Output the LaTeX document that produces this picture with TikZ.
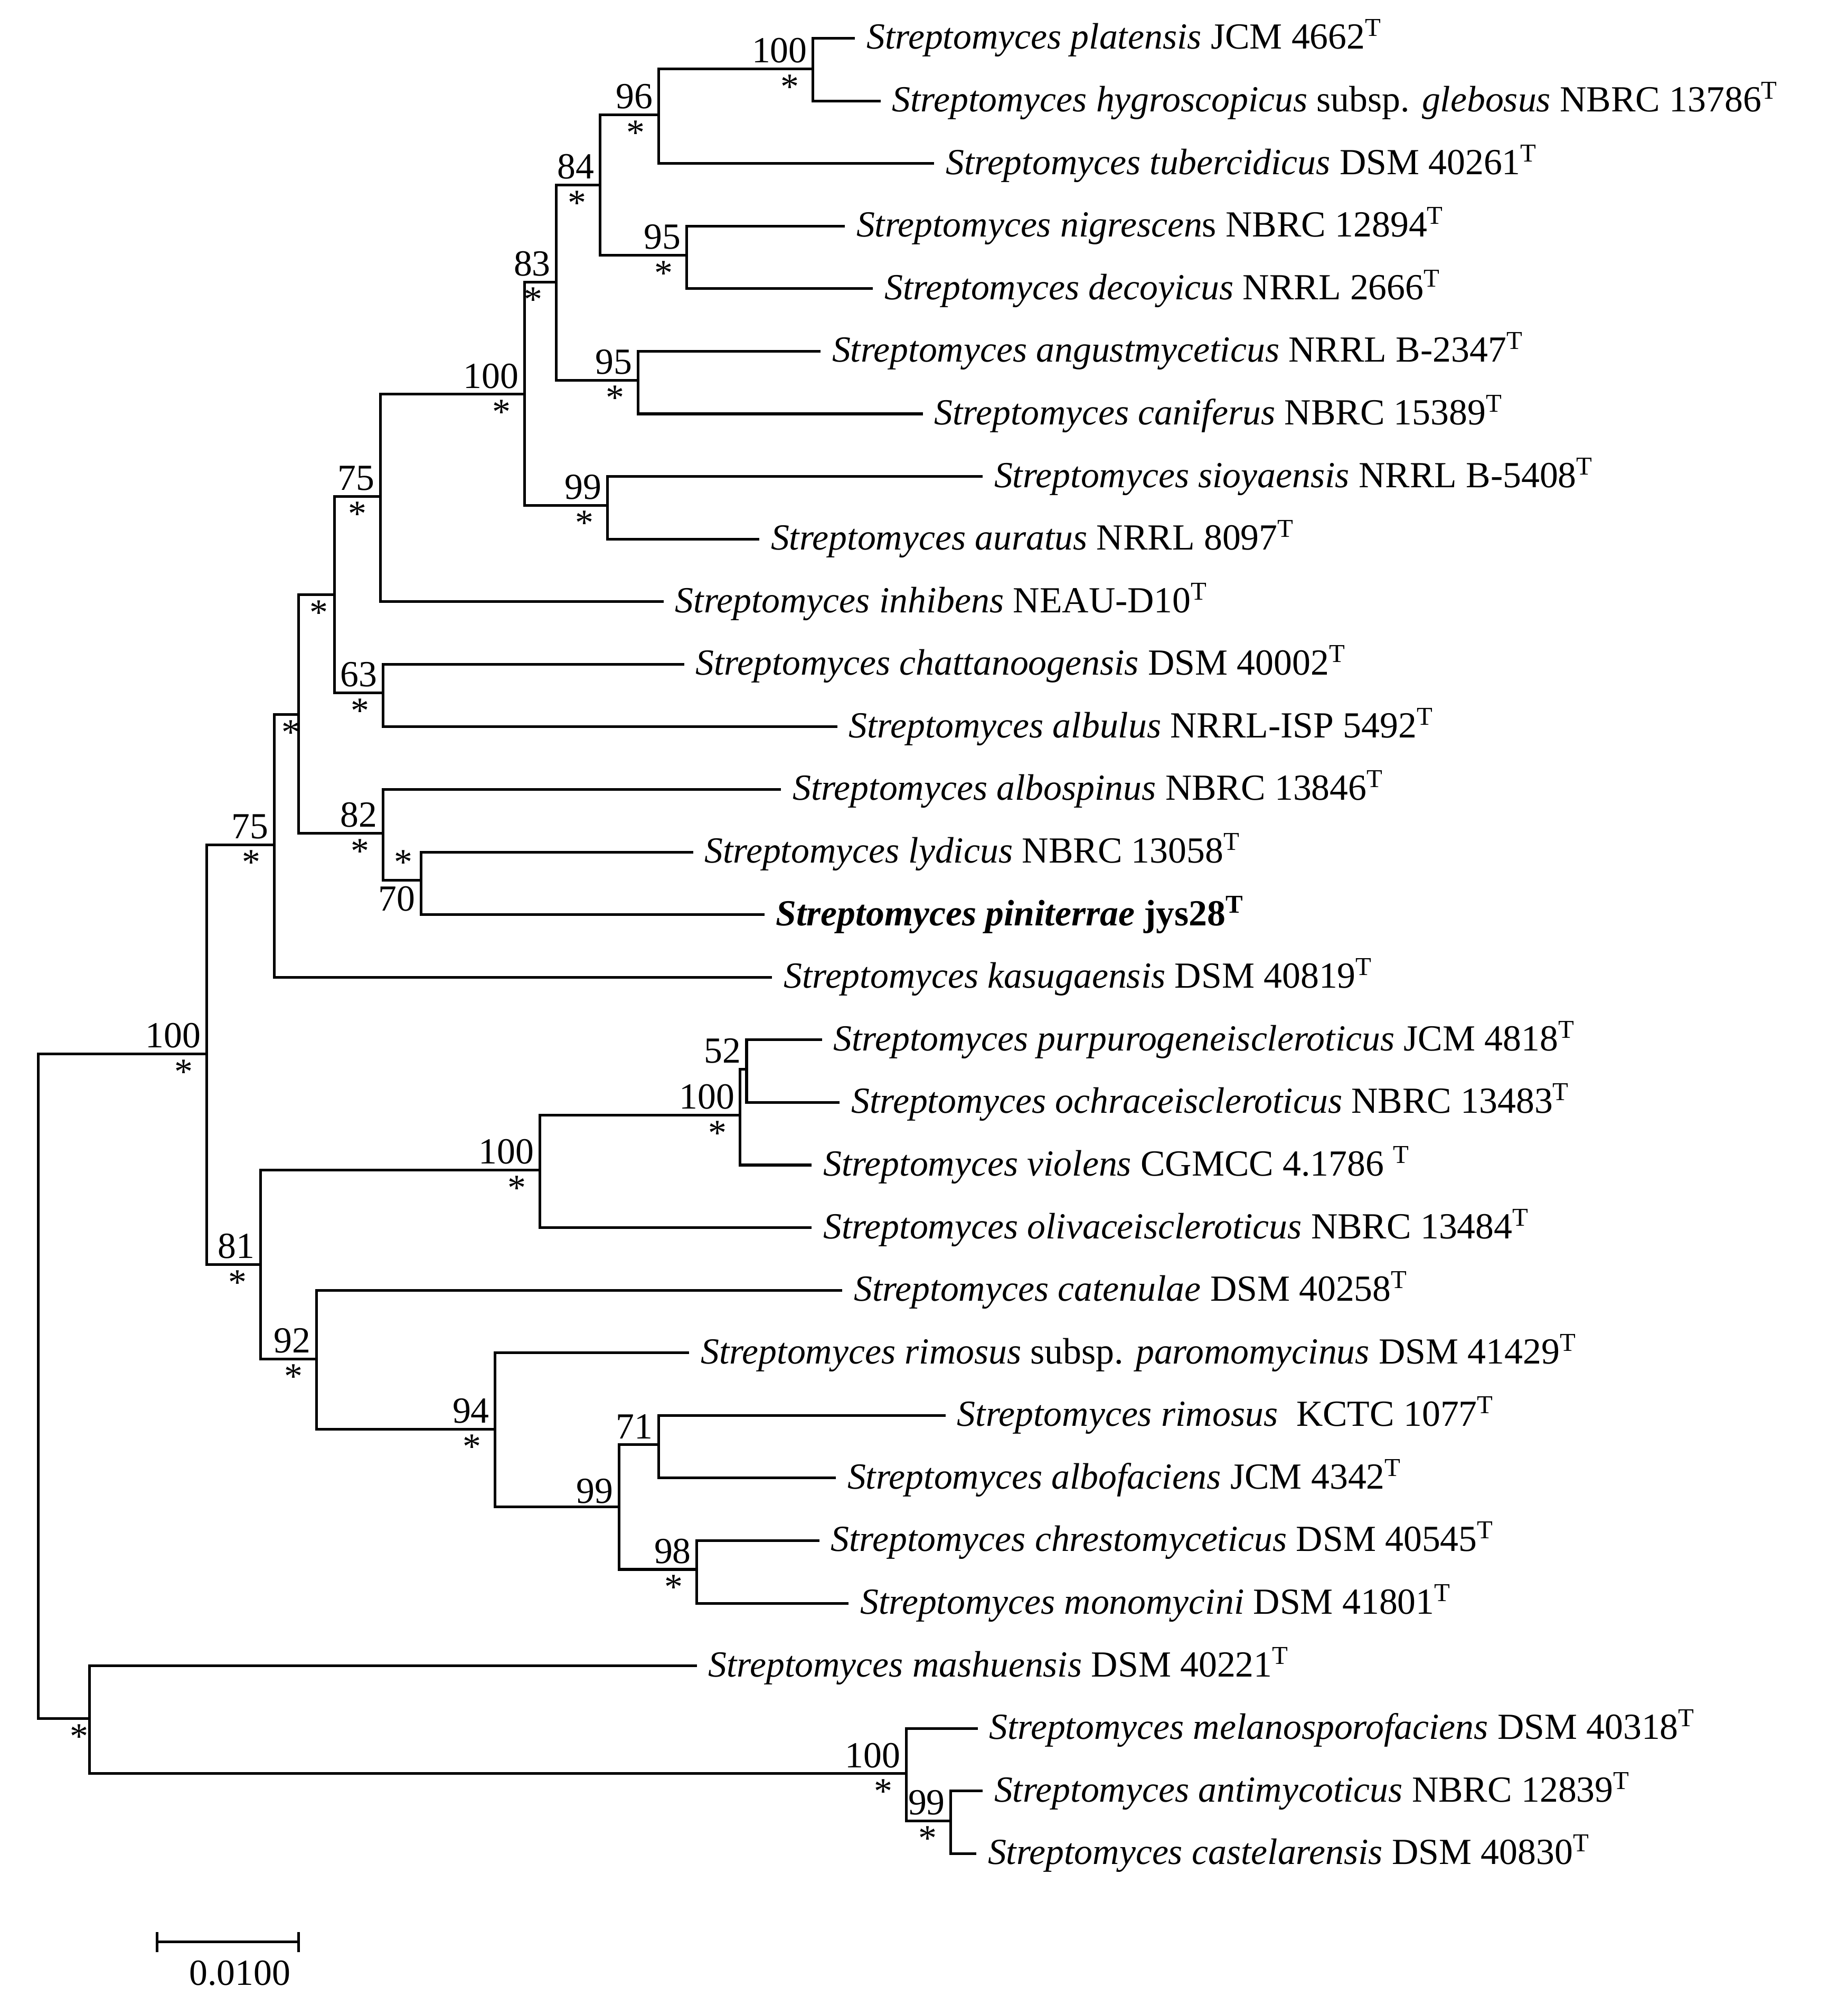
\documentclass[tikz,border=0pt]{standalone}
\usepackage{fontspec}
\setmainfont{Liberation Serif}
\begin{document}
\begin{tikzpicture}[x=0.01cm,y=-0.01cm,line width=0.6pt,
  leaf/.style={anchor=west,inner sep=0pt,font=\fontsize{8.2}{9}\selectfont},
  lab/.style={inner sep=1pt,font=\fontsize{8.2}{9}\selectfont}]
\useasboundingbox (0,0) rectangle (1440,1580);
% leaves
\foreach \i/\x/\t in {
1/678/{\textit{Streptomyces platensis} JCM 4662\textsuperscript{T}},
2/698/{\textit{Streptomyces hygroscopicus} subsp. \textit{glebosus} NBRC 13786\textsuperscript{T}},
3/740/{\textit{Streptomyces tubercidicus} DSM 40261\textsuperscript{T}},
4/670/{\textit{Streptomyces nigrescen}s NBRC 12894\textsuperscript{T}},
5/692/{\textit{Streptomyces decoyicus} NRRL 2666\textsuperscript{T}},
6/651/{\textit{Streptomyces angustmyceticus} NRRL B-2347\textsuperscript{T}},
7/731/{\textit{Streptomyces caniferus} NBRC 15389\textsuperscript{T}},
8/778/{\textit{Streptomyces sioyaensis} NRRL B-5408\textsuperscript{T}},
9/603/{\textit{Streptomyces auratus} NRRL 8097\textsuperscript{T}},
10/528/{\textit{Streptomyces inhibens} NEAU-D10\textsuperscript{T}},
11/544/{\textit{Streptomyces chattanoogensis} DSM 40002\textsuperscript{T}},
12/664/{\textit{Streptomyces albulus} NRRL-ISP 5492\textsuperscript{T}},
13/620/{\textit{Streptomyces albospinus} NBRC 13846\textsuperscript{T}},
14/551/{\textit{Streptomyces lydicus} NBRC 13058\textsuperscript{T}},
15/607/{\textbf{\textit{Streptomyces piniterrae} jys28\textsuperscript{T}}},
16/613/{\textit{Streptomyces kasugaensis} DSM 40819\textsuperscript{T}},
17/652/{\textit{Streptomyces purpurogeneiscleroticus} JCM 4818\textsuperscript{T}},
18/666/{\textit{Streptomyces ochraceiscleroticus} NBRC 13483\textsuperscript{T}},
19/644/{\textit{Streptomyces violens} CGMCC 4.1786 \textsuperscript{T}},
20/644/{\textit{Streptomyces olivaceiscleroticus} NBRC 13484\textsuperscript{T}},
21/668/{\textit{Streptomyces catenulae} DSM 40258\textsuperscript{T}},
22/548/{\textit{Streptomyces rimosus} subsp. \textit{paromomycinus} DSM 41429\textsuperscript{T}},
23/749/{\textit{Streptomyces rimosus}\ \ KCTC 1077\textsuperscript{T}},
24/663/{\textit{Streptomyces albofaciens} JCM 4342\textsuperscript{T}},
25/650/{\textit{Streptomyces chrestomyceticus} DSM 40545\textsuperscript{T}},
26/673/{\textit{Streptomyces monomycini} DSM 41801\textsuperscript{T}},
27/554/{\textit{Streptomyces mashuensis} DSM 40221\textsuperscript{T}},
28/774/{\textit{Streptomyces melanosporofaciens} DSM 40318\textsuperscript{T}},
29/778/{\textit{Streptomyces antimycoticus} NBRC 12839\textsuperscript{T}},
30/773/{\textit{Streptomyces castelarensis} DSM 40830\textsuperscript{T}}}
{\node[leaf] (l\i) at (\x,{30+49.06*(\i-1)}) {\t};
 \coordinate (e\i) at ({\x-8},{30+49.06*(\i-1)});}
% internal nodes
\coordinate (n1) at (637,54);
\coordinate (n2) at (516,90);
\coordinate (n3) at (538,200);
\coordinate (n4) at (470,145);
\coordinate (n5) at (500,298);
\coordinate (n6) at (436,221);
\coordinate (n7) at (476,396);
\coordinate (n8) at (411,309);
\coordinate (n9) at (298,389);
\coordinate (n10) at (300,543);
\coordinate (n11) at (262,466);
\coordinate (n12) at (330,690);
\coordinate (n13) at (300,653);
\coordinate (n14) at (234,560);
\coordinate (n15) at (215,662);
\coordinate (n16) at (585,838);
\coordinate (n17) at (580,874);
\coordinate (n18) at (423,917);
\coordinate (n19) at (516,1132);
\coordinate (n20) at (546,1230);
\coordinate (n21) at (485,1181);
\coordinate (n22) at (388,1120);
\coordinate (n23) at (248,1065);
\coordinate (n24) at (204,991);
\coordinate (n25) at (162,826);
\coordinate (n26) at (745,1427);
\coordinate (n27) at (710,1390);
\coordinate (n28) at (70,1347);
\coordinate (r) at (30,1086);
\foreach \p/\c in {n1/e1,n1/e2,n2/n1,n2/e3,n3/e4,n3/e5,n4/n2,n4/n3,n5/e6,n5/e7,
 n6/n4,n6/n5,n7/e8,n7/e9,n8/n6,n8/n7,n9/n8,n9/e10,n10/e11,n10/e12,n11/n9,n11/n10,
 n12/e14,n12/e15,n13/e13,n13/n12,n14/n11,n14/n13,n15/n14,n15/e16,
 n16/e17,n16/e18,n17/n16,n17/e19,n18/n17,n18/e20,n19/e23,n19/e24,n20/e25,n20/e26,
 n21/n19,n21/n20,n22/e22,n22/n21,n23/e21,n23/n22,n24/n18,n24/n23,n25/n15,n25/n24,
 n26/e29,n26/e30,n27/e28,n27/n26,n28/e27,n28/n27,r/n25,r/n28}
 \draw (\p) |- (\c);
% labels
\foreach \n/\a/\b in {n1/100/*,n2/96/*,n3/95/*,n4/84/*,n5/95/*,n6/83/*,n7/99/*,n8/100/*,
 n9/75/*,n10/63/*,n13/82/*,n15/75/*,n17/100/*,n18/100/*,n20/98/*,n22/94/*,n23/92/*,
 n24/81/*,n25/100/*,n26/99/*,n27/100/*}
{\node[lab,anchor=south east] at (\n) {\a};
 \node[lab,anchor=north] at ([xshift=-18*0.01cm]\n) {\b};}
\node[lab,anchor=south east] at (n11) {};
\node[lab,anchor=north] at ([xshift=-12*0.01cm]n11) {*};
\node[lab,anchor=south] at ([xshift=-14*0.01cm]n12) {*};
\node[lab,anchor=north east] at (n12) {70};
\node[lab,anchor=north] at ([xshift=-6*0.01cm]n14) {*};
\node[lab,anchor=south east] at (n16) {52};
\node[lab,anchor=south east] at (n19) {71};
\node[lab,anchor=south east] at ([yshift=-2*0.01cm]n21) {99};
\node[lab,anchor=north] at ([xshift=-8*0.01cm]n28) {*};
% scale bar
\coordinate (s1) at (123,1522); \coordinate (s2) at (234,1522);
\draw (s1) -- (s2);
\draw ([yshift=-8*0.01cm]s1) -- ([yshift=8*0.01cm]s1);
\draw ([yshift=-8*0.01cm]s2) -- ([yshift=8*0.01cm]s2);
\node[lab,anchor=north] (sl) at (188,1532) {0.0100};
\end{tikzpicture}
\end{document}
